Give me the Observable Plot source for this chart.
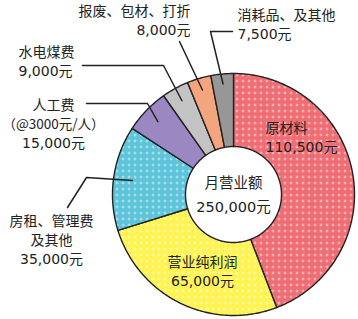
<!DOCTYPE html>
<html>
<head>
<meta charset="utf-8">
<script src="https://cdn.jsdelivr.net/npm/d3@7"></script>
<script src="https://cdn.jsdelivr.net/npm/@observablehq/plot@0.6"></script>
<style>
  html, body { margin: 0; padding: 0; background: #fff; }
  #chart svg { display: block; }
  #chart svg text { text-spacing-trim: space-all; }
</style>
</head>
<body>
<div id="chart"></div>
<script>
// ---- data ----
const categories = ["原材料", "营业纯利润", "房租、管理费\n及其他", "人工费", "水电煤费", "报废、包材、打折", "消耗品、及其他"];
const notes = ["", "", "", "（@3000元/人）", "", "", ""];
const values = [110500, 65000, 35000, 15000, 9000, 8000, 7500];
const centerTitle = "月营业额";
const unit = "元";

// ---- styles / layout (not data) ----
const W = 358, H = 319;
const cx = 233, cy = 194, R = 121, r0 = 48;
const colors = ["#ee6e74", "#fff352", "#5ec4da", "#9b87c2", "#c3c3c3", "#f4a57d", "#979797"];
const dotted = [true, true, true, false, false, false, false];
const layout = [
  {x: 265, y: 138, anchor: "start"},
  {x: 202, y: 272, anchor: "middle"},
  {x: 51, y: 240.5, anchor: "middle", lr: 102, path: [[86, 177], [67, 207]]},
  {x: 53, y: 124.5, anchor: "middle", lr: 105, path: [[147, 103], [86, 103]]},
  {x: 18, y: 62, anchor: "start", lr: 107, path: [[163, 65], [82, 65]]},
  {x: 190, y: 21, anchor: "end", lr: 109, path: [[179, 41]]},
  {x: 237, y: 25, anchor: "start", lr: 111, path: [[210, 31], [232, 31]]}
];
const lineGap = 19;
const ink = "#222";
const font = "'DejaVu Sans', 'Noto Sans CJK SC', sans-serif";
const cjkFont = "'Noto Sans CJK JP', 'Noto Sans CJK SC', sans-serif";

const fmt = d3.format(",");
const arcs = d3.pie().sort(null).value(d => d)(values);
const polar = (a, r) => [cx + r * Math.sin(a), cy - r * Math.cos(a)];

// slice polygons
const slicePts = arcs.map((a, i) => {
  const pts = [];
  const n = Math.max(4, Math.ceil((a.endAngle - a.startAngle) / 0.01));
  for (let k = 0; k <= n; k++) pts.push(polar(a.startAngle + (a.endAngle - a.startAngle) * k / n, R));
  for (let k = n; k >= 0; k--) pts.push(polar(a.startAngle + (a.endAngle - a.startAngle) * k / n, r0));
  pts.push(pts[0]);
  return pts.map(([x, y]) => ({x, y, i}));
});

const fillOf = i => dotted[i] ? `url(#pat${i})` : colors[i];

const marks = slicePts.map((pts, i) =>
  Plot.line(pts, {x: "x", y: "y", fill: fillOf(i), stroke: ink, strokeWidth: 1.4, strokeLinejoin: "round"})
);

// leader lines
const leaders = [];
arcs.forEach((a, i) => {
  const L = layout[i];
  if (!L.path) return;
  const mid = (a.startAngle + a.endAngle) / 2;
  const pts = [polar(mid, L.lr), ...L.path];
  pts.forEach(([x, y]) => leaders.push({x, y, i}));
});
marks.push(Plot.line(leaders, {x: "x", y: "y", z: "i", stroke: ink, strokeWidth: 1.5}));

// labels: one row per text line
const rows = [];
arcs.forEach((a, i) => {
  const lines = categories[i].split("\n").map(t => ({t, note: false}));
  if (notes[i]) lines.push({t: notes[i], note: true});
  lines.push({t: fmt(values[i]) + unit, note: false});
  const n = lines.length;
  lines.forEach((l, k) => rows.push({
    x: layout[i].x, y: layout[i].y + (k - (n - 1) / 2) * lineGap,
    anchor: layout[i].anchor, text: l.t, note: l.note
  }));
});
for (const anchor of ["start", "middle", "end"]) {
  marks.push(Plot.text(rows.filter(d => d.anchor === anchor && !d.note), {
    x: "x", y: "y", text: "text", textAnchor: anchor, lineAnchor: "middle",
    fontSize: 14, fill: ink, fontFamily: font
  }));
}
marks.push(Plot.text(rows.filter(d => d.note), {
  x: "x", y: "y", text: "text", textAnchor: "middle", lineAnchor: "middle",
  fontSize: 13.5, fill: ink, fontFamily: cjkFont
}));
// center total
marks.push(Plot.text([{x: cx, y: cy - 2, text: centerTitle + "\n" + fmt(d3.sum(values)) + unit}], {
  x: "x", y: "y", text: "text", textAnchor: "middle", lineAnchor: "middle",
  lineHeight: 1.6, fontSize: 14.5, fill: ink, fontFamily: font
}));

const svg = Plot.plot({
  width: W, height: H,
  margin: 0,
  x: {domain: [0, W], range: [0, W], axis: null},
  y: {domain: [0, H], range: [0, H], axis: null},
  style: {background: "#fff", overflow: "visible"},
  marks
});

// dot patterns
const defs = colors.map((c, i) => dotted[i] ? `
  <pattern id="pat${i}" patternUnits="userSpaceOnUse" width="6" height="6">
    <rect width="6" height="6" fill="${c}"/>
    <rect x="2" y="1" width="1" height="3" fill="#fff" fill-opacity="0.5"/>
    <rect x="1" y="2" width="3" height="1" fill="#fff" fill-opacity="0.5"/>
  </pattern>` : "").join("");
svg.insertAdjacentHTML("afterbegin", `<defs>${defs}</defs>`);

document.getElementById("chart").appendChild(svg);
</script>
</body>
</html>
